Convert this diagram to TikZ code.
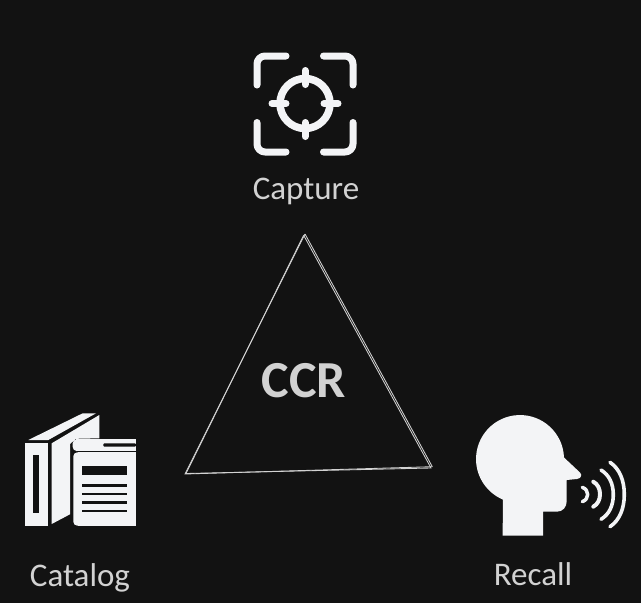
\documentclass[tikz,border=0pt]{standalone}
\usepackage{xcolor}
\usepackage{fontspec}
\usetikzlibrary{calc}
\setmainfont{Carlito}
\definecolor{bgdark}{HTML}{121212}
\definecolor{iconwhite}{HTML}{F3F4F6}
\definecolor{labelgray}{HTML}{D2D2D2}
\tikzset{
    iconfill/.style={fill=iconwhite,draw=none},
    cutfill/.style={fill=bgdark,draw=none},
    iconline/.style={draw=iconwhite,line cap=round,line join=round},
    roughline/.style={draw=labelgray,line width=0.85pt},
    labeltext/.style={text=labelgray,font=\fontsize{33}{36}\selectfont,inner sep=0pt}
}

\begin{document}
\begin{tikzpicture}[x=1pt,y=1pt,yscale=-1]
        \fill[bgdark] (0,0) rectangle (641,603);
        \useasboundingbox (0,0) rectangle (641,603);
        % capture icon
        \draw[iconline,line width=7pt,rounded corners=8pt] (257,85) -- (257,56) -- (286,56);
        \draw[iconline,line width=7pt,rounded corners=8pt] (323.5,56) -- (353,56) -- (353,85);
        \draw[iconline,line width=7pt,rounded corners=8pt] (257,122.5) -- (257,152) -- (286,152);
        \draw[iconline,line width=7pt,rounded corners=8pt] (323.5,152) -- (353,152) -- (353,122.5);
        \draw[iconline,line width=7.5pt] (305,103.5) circle (25);
        \foreach \ang in {0,90,180,270}{
            \draw[iconline,line width=7pt] ($(305,103.5)+(\ang:19)$) -- ($(305,103.5)+(\ang:33)$);
        }
        % catalog icon
        \fill[iconfill] (25,443.3) rectangle (47.7,525.7);
        \fill[cutfill] (32.7,455) rectangle (39,513.3);
        \fill[iconfill] (28.3,440) -- (82.7,413.3) -- (96,413.3) -- (48.3,440) -- cycle;
        \fill[iconfill] (51.7,443.3) -- (99.3,415) -- (99.3,438.3) -- (76,438.8) -- (70,444) -- (70,514.3) -- (51.7,524) -- cycle;
        \fill[iconfill,rounded corners=4pt] (80,439.3) -- (72.7,439.3) -- (72.7,451) -- (80,451) -- cycle;
        \fill[iconfill] (76,439.3) rectangle (136,451);
        \fill[cutfill,rounded corners=1pt] (103.3,443.3) rectangle (136,446.7);
        \fill[iconfill,rounded corners=4pt] (73.3,452.3) -- (73.3,525.7) -- (90,525.7) -- (90,452.3) -- cycle;
        \fill[iconfill] (78,452.3) rectangle (136,525.7);
        \fill[cutfill] (82.3,465.7) rectangle (126.7,474.7);
        \foreach \liney in {485.3,494,502.7,511}{
            \fill[cutfill] (82.3,\liney-1.35) rectangle (126.7,\liney+1.35);
        }
        % recall icon
        \fill[iconfill] (564,457.5) arc[start angle=-2,end angle=-247,radius=44]
            -- (502.7,535.7) -- (543,535.7) -- (543,511.7) -- (556.7,511.7)
            .. controls (563,511.7) and (566.7,507) .. (566.7,501)
            -- (566.7,480) -- (577,479)
            .. controls (581,478.5) and (582.5,475) .. (580,472.5) -- cycle;
        \foreach \xa/\xm/\ya/\yb/\wid in {582.3/587.7/487.3/501.7/3.5,593.3/600/481.7/506.7/4,601/613.3/470/519.3/3.6,610/624.3/462.3/526.7/3.6}{
            \draw[iconline,line width=\wid pt] (\xa,\ya)
                .. controls (\xa/3+\xm*2/3,\ya*0.9+\yb*0.1) and (\xm,\ya*0.72+\yb*0.28) .. (\xm,\ya/2+\yb/2)
                .. controls (\xm,\ya*0.28+\yb*0.72) and (\xa/3+\xm*2/3,\ya*0.1+\yb*0.9) .. (\xa,\yb);
        }
        % triangle
        \coordinate (apex) at (305,234);
        \coordinate (corner left) at (185,474);
        \coordinate (corner right) at (432.3,466.7);
        \draw[roughline] (apex) -- (corner left) -- (corner right);
        \draw[roughline] (303.5,235.5) -- (186,473.5);
        \draw[roughline] (apex) -- (corner right);
        \draw[roughline] (303.5,235) -- (431,468) -- (186,473.5);
        % labels
        \node[labeltext,font=\fontsize{52}{56}\selectfont\bfseries] (ccr) at (304,381) {CCR};
        \node[labeltext] (capture) at (306,191.5) {Capture};
        \node[labeltext] (catalog) at (80,578) {Catalog};
        \node[labeltext] (recall) at (533,574) {Recall};
    \end{tikzpicture}
\end{document}
